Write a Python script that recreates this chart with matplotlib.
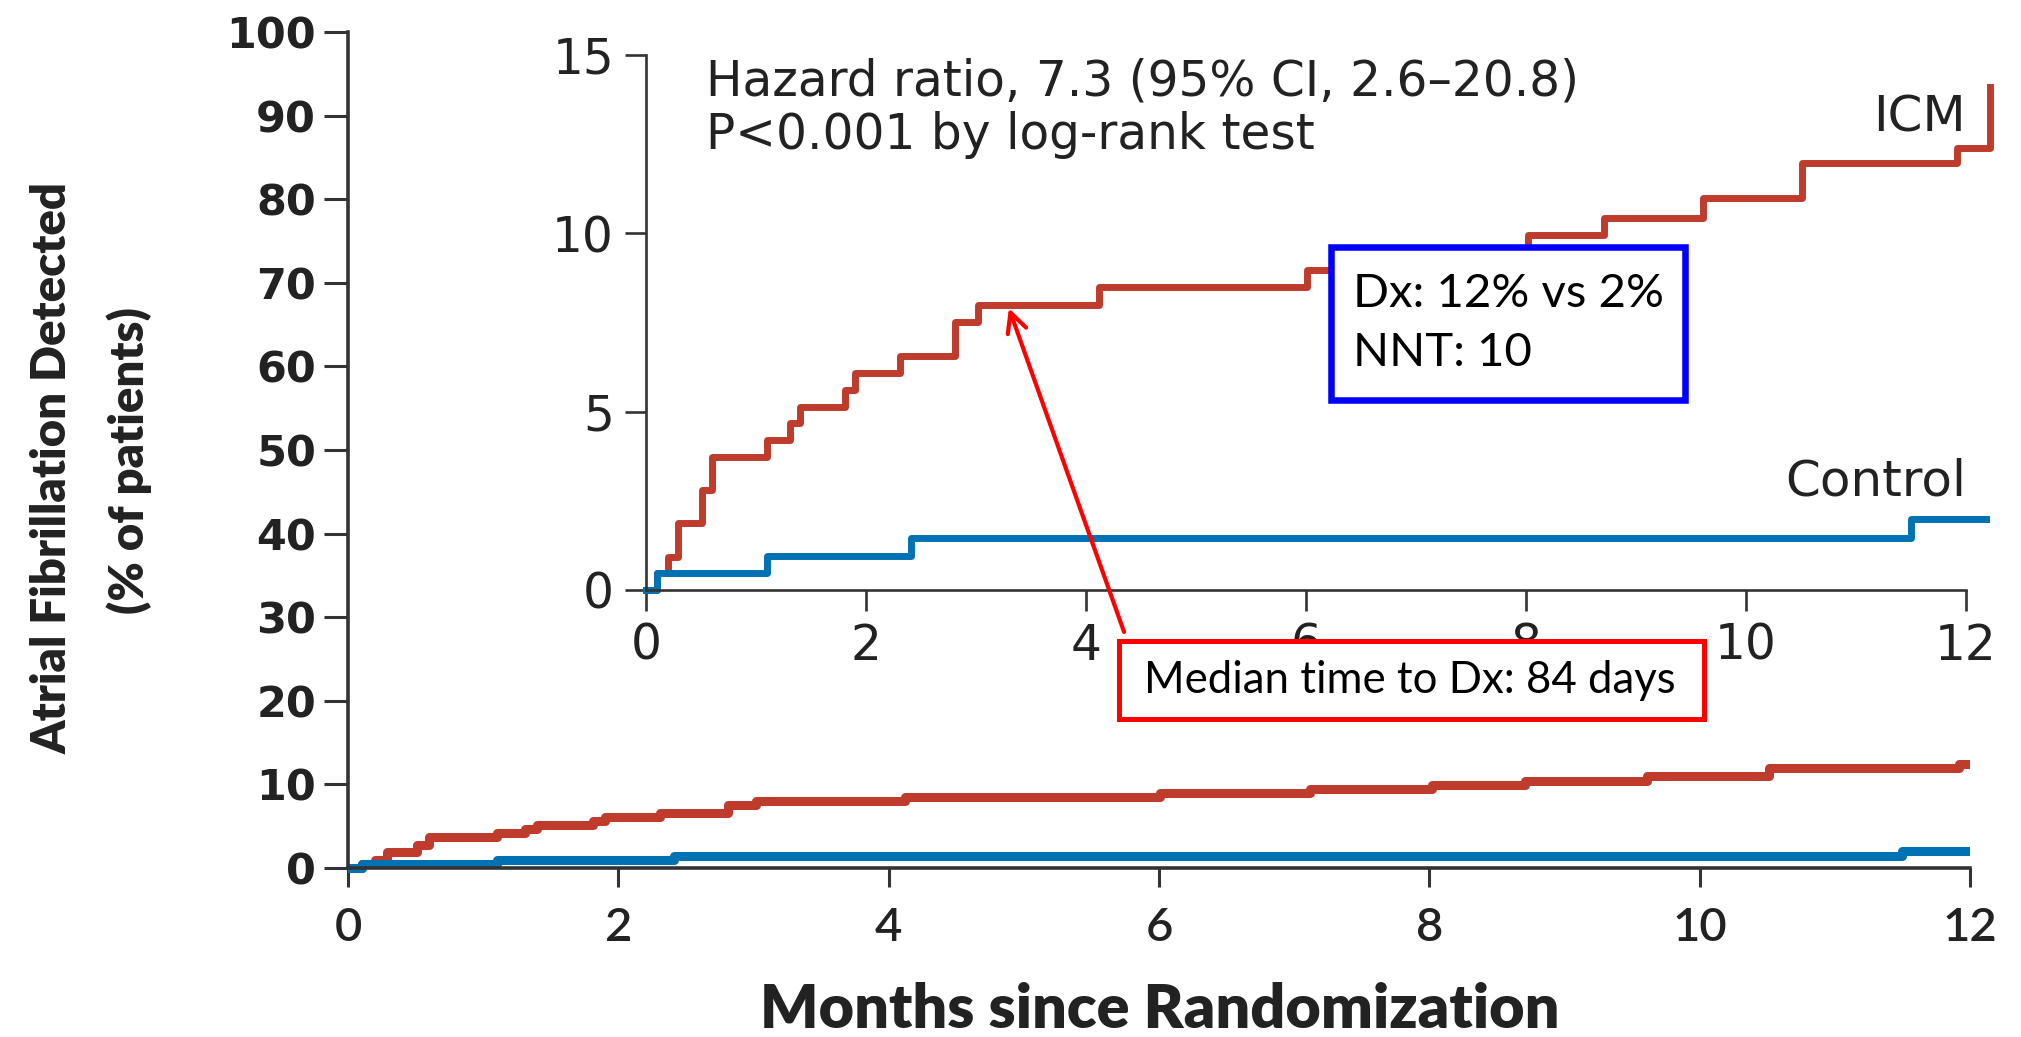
import numpy as np
import matplotlib
matplotlib.use("Agg")
from matplotlib import pyplot as plt
from matplotlib.patches import Rectangle

# cumulative AF detection (% of patients), step start times in months
icm_t = [0, 0.10, 0.20, 0.29, 0.51, 0.60, 1.10, 1.31, 1.40, 1.81, 1.90, 2.31,
         2.81, 3.02, 4.12, 6.01, 7.12, 8.02, 8.71, 9.61, 10.51, 11.92, 12.22]
icm_v = [0, 0.47, 0.93, 1.87, 2.80, 3.74, 4.20, 4.67, 5.14, 5.60, 6.09, 6.56,
         7.52, 7.99, 8.49, 8.96, 9.40, 9.94, 10.44, 10.98, 11.96, 12.40, 14.1]
ctl_t = [0, 0.10, 1.10, 2.41, 11.50, 12.18]
ctl_v = [0, 0.47, 0.95, 1.45, 1.98, 1.98]

main_yticks = list(range(0, 101, 10))
main_xticks = list(range(0, 13, 2))
inset_yticks = [0, 5, 10, 15]
inset_xticks = list(range(0, 13, 2))

RED = "#BF3B2B"
BLUE = "#0071B3"
AXC = "#333333"
TXT = "#222222"
BOLDF = ["Lato", "DejaVu Sans"]
BOXFONT = ["Lato", "DejaVu Sans"]
INFONT = "DejaVu Sans"

fig = plt.figure(figsize=(20.21, 10.37), dpi=100)

# ---- main axes ----
ax = fig.add_axes([0.1722, 0.1533, 0.8026, 0.8158])
ax.set_xlim(0, 12)
ax.set_ylim(-1.2, 100)
ax.step(icm_t, icm_v, where="post", color=RED, lw=6.5, solid_capstyle="round")
ax.step(ctl_t, ctl_v, where="post", color=BLUE, lw=6.5, solid_capstyle="round")
for s in ["top", "right"]:
    ax.spines[s].set_visible(False)
ax.spines["bottom"].set_position(("data", 0))
ax.spines["left"].set_bounds(0, 100)
for s in ["left", "bottom"]:
    ax.spines[s].set_linewidth(2.6)
    ax.spines[s].set_color(AXC)
ax.set_yticks(main_yticks)
ax.set_xticks(main_xticks)
ax.tick_params(axis="y", direction="out", length=17, width=2.2, color=AXC, pad=6)
ax.tick_params(axis="x", direction="out", length=14, width=2.2, color=AXC, pad=14)
for lab in ax.get_yticklabels():
    lab.set_fontsize(31)
    lab.set_fontweight("bold")
    lab.set_family("DejaVu Sans")
    lab.set_color(TXT)
for lab in ax.get_xticklabels():
    lab.set_fontsize(34)
    lab.set_family(BOLDF)
    lab.set_fontweight("semibold")
    lab.set_color(TXT)

fig.text(0.026, 0.549, "Atrial Fibrillation Detected", rotation=90, ha="center", va="center",
         fontsize=34, fontweight="heavy", family=BOLDF, color=TXT)
fig.text(0.064, 0.556, "(% of patients)", rotation=90, ha="center", va="center",
         fontsize=34, fontweight="heavy", family=BOLDF, color=TXT)
fig.text(0.574, 0.026, "Months since Randomization", ha="center", va="center",
         fontsize=44, fontweight="heavy", family=BOLDF, color=TXT)

# ---- inset ----
ins = fig.add_axes([0.3196, 0.4311, 0.6531, 0.5159])
ins.patch.set_alpha(0)
ins.set_xlim(0, 12)
ins.set_ylim(0, 15)
ins.step(icm_t, icm_v, where="post", color=RED, lw=5, clip_on=False)
ins.step(ctl_t, ctl_v, where="post", color=BLUE, lw=5, clip_on=False)
for s in ["top", "right"]:
    ins.spines[s].set_visible(False)
for s in ["left", "bottom"]:
    ins.spines[s].set_linewidth(1.9)
    ins.spines[s].set_color(AXC)
ins.set_yticks(inset_yticks)
ins.set_xticks(inset_xticks)
ins.tick_params(direction="out", length=15, width=1.9, color=AXC, labelsize=35, pad=8)
for lab in ins.get_xticklabels() + ins.get_yticklabels():
    lab.set_family(INFONT)
    lab.set_color(TXT)

ins.text(0.0455, 0.95, "Hazard ratio, 7.3 (95% CI, 2.6\u201320.8)", transform=ins.transAxes,
         fontsize=35, family=INFONT, color=TXT, va="center")
ins.text(0.0455, 0.85, "P<0.001 by log-rank test", transform=ins.transAxes,
         fontsize=35, family=INFONT, color=TXT, va="center")
ins.text(12.0, 13.25, "ICM", fontsize=36, family=INFONT, color=TXT, ha="right", va="center")
ins.text(12.0, 3.05, "Control", fontsize=36, family=INFONT, color=TXT, ha="right", va="center")

# median time arrow
ins.annotate("", xy=(3.3, 7.9), xycoords="data",
             xytext=(0.5562, 0.3906), textcoords="figure fraction",
             arrowprops=dict(arrowstyle="->", color="red", lw=3, mutation_scale=35,
                             shrinkA=0, shrinkB=0))

# ---- annotation boxes ----
fig.add_artist(Rectangle((0.6586, 0.6143), 0.1751, 0.1475, transform=fig.transFigure,
                         fill=True, facecolor="white", edgecolor="#0000FF", lw=4.7, zorder=5))
fig.text(0.6695, 0.7165, "Dx: 12% vs 2%", fontsize=34, family=BOXFONT, va="center", zorder=6)
fig.text(0.6695, 0.66, "NNT: 10", fontsize=34, family=BOXFONT, va="center", zorder=6)

fig.add_artist(Rectangle((0.5537, 0.3067), 0.2895, 0.0752, transform=fig.transFigure,
                         fill=True, facecolor="white", edgecolor="#FF0000", lw=3.6, zorder=5))
fig.text(0.6977, 0.3433, "Median time to Dx: 84 days", fontsize=31.5, family=BOXFONT,
         ha="center", va="center", zorder=6)

fig.savefig("out.png", dpi=100)
